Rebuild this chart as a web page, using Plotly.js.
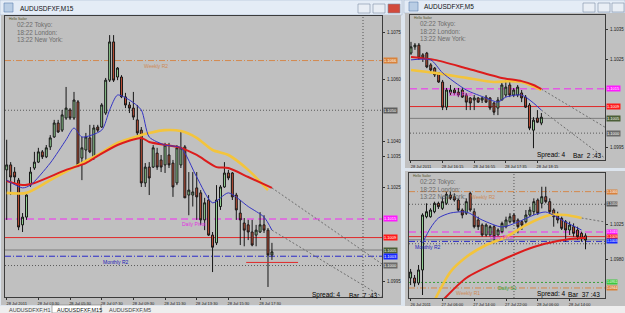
<!DOCTYPE html>
<html><head><meta charset="utf-8">
<script src="https://cdn.plot.ly/plotly-3.0.1.min.js"></script>
<style>html,body{margin:0;padding:0;background:#dde5ee;}#chart{width:625px;height:313px;}</style>
</head><body><div id="chart"></div>
<script>
const W = 625, H = 313;
const FONT = 'Liberation Sans, Arial, sans-serif';

// ===== M15 (main) data =====
const m15Labels = ['28 Jul 2011','28 Jul 03:30','28 Jul 05:30','28 Jul 07:30','28 Jul 09:30','28 Jul 11:30','28 Jul 13:30','28 Jul 15:30','28 Jul 17:30'];
const m15Open = [1.10308,1.10324,1.10301,1.10275,1.10131,1.10156,1.10259,1.10314,1.10333,1.10366,1.10350,
1.10382,1.10414,1.10459,1.10436,1.10475,1.10501,1.10475,1.10527,1.10346,1.10372,
1.10411,1.10350,1.10446,1.10446,1.10491,1.10597,1.10720,1.10607,1.10607,1.10543,
1.10517,1.10507,1.10469,1.10436,1.10266,1.10317,1.10317,1.10362,1.10340,1.10324,
1.10356,1.10330,1.10266,1.10324,1.10382,1.10227,1.10227,1.10250,1.10234,1.10147,
1.10211,1.10098,1.10073,1.10190,1.10253,1.10298,1.10298,1.10227,1.10169,1.10137,
1.10131,1.10108,1.10098,1.10108,1.10131,1.10114,1.10034];
const m15High = [1.10405,1.10333,1.10317,1.10282,1.10169,1.10234,1.10317,1.10366,1.10379,1.10372,1.10388,
1.10420,1.10469,1.10469,1.10501,1.10575,1.10507,1.10559,1.10533,1.10414,1.10427,
1.10453,1.10453,1.10453,1.10523,1.10604,1.10742,1.10742,1.10639,1.10613,1.10556,
1.10527,1.10559,1.10517,1.10446,1.10330,1.10333,1.10388,1.10379,1.10356,1.10395,
1.10395,1.10340,1.10388,1.10436,1.10388,1.10301,1.10301,1.10301,1.10243,1.10218,
1.10227,1.10108,1.10259,1.10259,1.10333,1.10308,1.10301,1.10234,1.10211,1.10153,
1.10147,1.10147,1.10131,1.10172,1.10162,1.10121,1.10073];
const m15Low = [1.10147,1.10227,1.10266,1.10114,1.10108,1.10147,1.10253,1.10308,1.10330,1.10343,1.10346,
1.10372,1.10411,1.10427,1.10430,1.10469,1.10469,1.10469,1.10317,1.10275,1.10340,
1.10362,1.10340,1.10430,1.10443,1.10485,1.10591,1.10591,1.10597,1.10539,1.10507,
1.10491,1.10469,1.10420,1.10253,1.10253,1.10227,1.10314,1.10308,1.10301,1.10298,
1.10314,1.10221,1.10259,1.10314,1.10218,1.10162,1.10190,1.10147,1.10131,1.10114,
1.10095,1.09979,1.10066,1.10179,1.10250,1.10275,1.10211,1.10147,1.10066,1.10062,
1.10082,1.10062,1.10062,1.10105,1.10105,1.09931,1.10018];
const m15Close = [1.10324,1.10285,1.10285,1.10124,1.10156,1.10227,1.10301,1.10333,1.10366,1.10350,1.10379,
1.10411,1.10459,1.10430,1.10485,1.10507,1.10475,1.10533,1.10324,1.10379,1.10414,
1.10366,1.10443,1.10436,1.10517,1.10597,1.10720,1.10597,1.10636,1.10543,1.10517,
1.10507,1.10478,1.10427,1.10266,1.10317,1.10282,1.10379,1.10317,1.10317,1.10388,
1.10324,1.10253,1.10379,1.10379,1.10218,1.10243,1.10237,1.10221,1.10147,1.10202,
1.10098,1.10059,1.10211,1.10253,1.10298,1.10282,1.10221,1.10179,1.10147,1.10114,
1.10108,1.10066,1.10114,1.10131,1.10114,1.10034,1.10044];
const m15RedBar = [0,4,7,15,20,23,28,34,36,44,48,53,56,61,67];
const m15RedVal = [1.10272,1.10259,1.10266,1.10308,1.10330,1.10353,1.10388,1.10411,1.10398,1.10379,1.10356,1.10317,1.10314,1.10285,1.10250];
const m15YelBar = [0,5,11,19,23,28,34,36,40,44,48,52,56,61,66];
const m15YelVal = [1.10234,1.10234,1.10275,1.10330,1.10356,1.10395,1.10420,1.10427,1.10436,1.10433,1.10411,1.10372,1.10356,1.10308,1.10243];
const m15BluBar = [0,4,6,11,15,17,19,24,26,28,31,34,36,40,44,48,52,56,61,65,67];
const m15BluVal = [1.10275,1.10250,1.10259,1.10330,1.10405,1.10443,1.10414,1.10436,1.10501,1.10549,1.10533,1.10501,1.10414,1.10388,1.10379,1.10285,1.10202,1.10234,1.10190,1.10156,1.10114];
const m15ProjBar = [[67,94.8],[67,94.8]];
const m15ProjVal = [[1.10250,1.10005],[1.10114,1.09900]];
const m15Spread = 'Spread: 4', m15BarTime = 'Bar  7 :43';

// ===== M5 (top right) data =====
const m5Labels = ['28 Jul 2011','28 Jul 16:15','28 Jul 16:55','28 Jul 17:35','28 Jul 18:15'];
const m5Open = [1.10271,1.10292,1.10298,1.10265,1.10271,1.10231,1.10220,1.10204,1.10173,1.10088,1.10136,1.10146,1.10139,1.10146,1.10129,1.10119,1.10112,1.10119,1.10112,1.10122,1.10119,1.10102,1.10085,1.10112,1.10129,1.10163,1.10129,1.10129,1.10136,1.10122,1.10095,1.10010,1.10051,1.10034];
const m5High = [1.10309,1.10305,1.10305,1.10271,1.10275,1.10237,1.10224,1.10207,1.10180,1.10153,1.10163,1.10153,1.10153,1.10153,1.10136,1.10122,1.10129,1.10122,1.10122,1.10129,1.10122,1.10105,1.10122,1.10170,1.10180,1.10180,1.10153,1.10163,1.10146,1.10129,1.10102,1.10054,1.10078,1.10068];
const m5Low = [1.10265,1.10282,1.10248,1.10241,1.10220,1.10207,1.10190,1.10170,1.10078,1.10078,1.10129,1.10129,1.10122,1.10119,1.10078,1.10078,1.10078,1.10102,1.10102,1.10102,1.10078,1.10061,1.10061,1.10112,1.10122,1.10122,1.10122,1.10122,1.10105,1.10085,1.10010,1.09949,1.10034,1.10027];
const m5Close = [1.10292,1.10298,1.10254,1.10254,1.10224,1.10214,1.10197,1.10173,1.10088,1.10146,1.10146,1.10136,1.10129,1.10122,1.10105,1.10102,1.10119,1.10105,1.10119,1.10105,1.10085,1.10071,1.10112,1.10163,1.10156,1.10129,1.10146,1.10156,1.10119,1.10088,1.10017,1.10044,1.10037,1.10054];
const m5RedBar = [0,6,14,23,28,31,33];
const m5RedVal = [1.10258,1.10248,1.10220,1.10187,1.10176,1.10163,1.10149];
const m5YelBar = [0,6,14,21,25,28,33];
const m5YelVal = [1.10214,1.10204,1.10187,1.10173,1.10176,1.10173,1.10146];
const m5BluBar = [0,5,8,14,19,22,24,28,31,33];
const m5BluVal = [1.10248,1.10248,1.10204,1.10146,1.10119,1.10105,1.10122,1.10129,1.10102,1.10078];
const m5ProjBar = [[33,49.1],[33,49.1]];
const m5ProjVal = [[1.10149,1.10020],[1.10078,1.09915]];
const m5BarTime = 'Bar  2 :43';

// ===== H1 (bottom right) data =====
const h1Labels = ['26 Jul 2011','27 Jul 06:00','27 Jul 14:00','27 Jul 22:00','28 Jul 06:00','28 Jul 14:00'];
const h1Open = [1.09566,1.09566,1.09503,1.09668,1.10342,1.10342,1.10406,1.10512,1.10448,1.10512,
1.10617,1.10596,1.10554,1.10427,1.10386,1.10638,1.10406,1.10301,1.10237,1.10111,
1.10111,1.10216,1.10111,1.10153,1.10216,1.10279,1.10364,1.10301,1.10279,1.10279,
1.10364,1.10406,1.10554,1.10512,1.10596,1.10533,1.10427,1.10364,1.10322,1.10279,
1.10174,1.10216,1.10174,1.10132,1.10100];
const h1High = [1.09681,1.09604,1.09731,1.10386,1.10512,1.10450,1.10533,1.10533,1.10596,1.10659,
1.10659,1.10638,1.10575,1.10448,1.10575,1.10659,1.10448,1.10343,1.10258,1.10258,
1.10237,1.10237,1.10195,1.10280,1.10343,1.10386,1.10386,1.10322,1.10301,1.10427,
1.10469,1.10575,1.10575,1.10722,1.10722,1.10575,1.10448,1.10406,1.10343,1.10301,
1.10280,1.10258,1.10216,1.10153,1.10132];
const h1Low = [1.09477,1.09456,1.09477,1.09351,1.10322,1.10330,1.10386,1.10440,1.10427,1.10490,
1.10554,1.10533,1.10406,1.10322,1.10364,1.10406,1.10195,1.10174,1.10090,1.10090,
1.10090,1.10005,1.10090,1.10132,1.10195,1.10258,1.10258,1.10132,1.10174,1.10258,
1.10342,1.10364,1.10364,1.10448,1.10512,1.10364,1.10216,1.10258,1.10174,1.10026,
1.10111,1.10090,1.10047,1.10026,1.09930];
const h1Close = [1.09642,1.09503,1.09668,1.10364,1.10406,1.10427,1.10512,1.10469,1.10533,1.10626,
1.10575,1.10554,1.10427,1.10364,1.10533,1.10427,1.10216,1.10216,1.10111,1.10237,
1.10216,1.10089,1.10174,1.10258,1.10301,1.10342,1.10279,1.10216,1.10237,1.10364,
1.10427,1.10533,1.10386,1.10596,1.10533,1.10406,1.10342,1.10301,1.10195,1.10174,
1.10237,1.10132,1.10089,1.10068,1.10047];
const h1RedBar = [8,14,23,31,37,43,44];
const h1RedVal = [1.09280,1.09566,1.09794,1.09959,1.10035,1.10073,1.10073];
const h1YelBar = [6,10,14,19,24,29,35,39,43];
const h1YelVal = [1.09280,1.09642,1.09832,1.09984,1.10085,1.10237,1.10364,1.10364,1.10326];
const h1BluBar = [3,5,7,10,14,18,23,27,31,34,39,43];
const h1BluVal = [1.10009,1.10199,1.10326,1.10389,1.10402,1.10301,1.10212,1.10275,1.10364,1.10402,1.10275,1.10174];
const h1ProjBar = [[43,49]];
const h1ProjVal = [[1.10326,1.10275]];
const h1BarTime = 'Bar  37 :43';

// ===== levels =====
const pivotNames  = ['Weekly R2','Daily Pivot','Monthly R2','Daily S1','Weekly R1'];
const pivotValues = [1.1066, 1.1015, 1.1003, 1.0951, 1.0944];
const roundLevels = [1.1050, 1.1000];
const redLevel = 1.1009;
const bidPrice = 1.1005;
const clockLines = ['02:22 Tokyo:','18:22 London:','13:22 New York:'];

// ===== styles =====
const pivotStyle = {
  'Weekly R2':  {color:'#d4884c', dash:'6px,2px,1px,2px', width:1, text:'#cf8a55'},
  'Daily Pivot':{color:'#e25be2', dash:'7px,4px', width:1.5, text:'#e030e0'},
  'Monthly R2': {color:'#2828c8', dash:'6px,2px,1px,2px', width:1, text:'#2020b8'},
  'Daily S1':   {color:'#3aa03a', dash:'2px,2px', width:1, text:'#40a040'},
  'Weekly R1':  {color:'#d4884c', dash:'6px,2px,1px,2px', width:1, text:'#cf8a55'}
};
const px = x => x / W, py = y => 1 - y / H;

const shapes = [], annotations = [];
function rect(x0,y0,x1,y1,fill,lc,lw){shapes.push({type:'rect',xref:'paper',yref:'paper',x0:px(x0),x1:px(x1),y0:py(y1),y1:py(y0),fillcolor:fill,line:{color:lc||fill,width:lw||0},layer:'below'});}
function txt(s,x,y,size,color,extra){annotations.push(Object.assign({text:s,xref:'paper',yref:'paper',x:px(x),y:py(y),xanchor:'left',yanchor:'middle',showarrow:false,font:{family:FONT,size:size,color:color}},extra||{}));}

// window chrome
rect(0,0,402,15,'#e4ecf6','#9fb3c9',0.5);
rect(404,0,625,13,'#e4ecf6','#9fb3c9',0.5);
rect(1,15,401,305,'#c0c0c0');
rect(405,13,625,168,'#c0c0c0');
rect(405,171,625,306,'#c0c0c0');
rect(0,306,625,313,'#eeeeee');
rect(52,305,101,313,'#ffffff','#7a7a7a',0.6);
rect(4,3,13,12,'#b9cde4','#5a7fae',0.6);
rect(409,2,418,11,'#b9cde4','#5a7fae',0.6);
[[358,370,'#e9eef5'],[373,385,'#e9eef5'],[388,400,'#d24a3c']].forEach(b=>rect(b[0],4,b[1],13,b[2],'#7d8ea5',0.6));
[[583,595,'#e9eef5'],[598,610,'#e9eef5'],[612,624,'#e9eef5']].forEach(b=>rect(b[0],3,b[1],12,b[2],'#7d8ea5',0.6));
txt('AUDUSDFXF,M15',18,8,6.5,'#111');
txt('AUDUSDFXF,M5',422,7,6.5,'#111');
txt('AUDUSDFXF,H1',7,310,5.5,'#444');
txt('AUDUSDFXF,M15',55,310,5.5,'#111');
txt('AUDUSDFXF,M5',107,310,5.5,'#444');

// panels: axis ids and pixel geometry
const panels = [
  {x:'x', y:'y', left:5, right:382, top:16, bottom:297, boxX:383, boxFont:4, clockX:15, clockY:25, helloY:18.6, spreadX:310, barX:347, spreadY:295, barTime:m15BarTime},
  {x:'x2', y:'y2', left:410, right:605, top:15, bottom:160, boxX:606, boxFont:4, clockX:418, clockY:24, helloY:17.6, spreadX:535, barX:571, spreadY:155, barTime:m5BarTime},
  {x:'x3', y:'y3', left:409, right:605, top:173, bottom:298, boxX:606, boxFont:3.4, clockX:418, clockY:182, helloY:175.6, spreadX:535, barX:566, spreadY:294, barTime:h1BarTime}
];
panels.forEach(p=>{
  txt('Hello Sailor',p.left+2,p.helloY,3.5,'#55552a');
  clockLines.forEach((c,i)=>txt(c,p.clockX,p.clockY+i*7.3,6.3,'#6c6c6c'));
  txt(m15Spread,p.spreadX,p.spreadY,6.5,'#000');
  txt(p.barTime,p.barX,p.spreadY,6.5,'#000');
});

function hline(p,price,color,width,dash){shapes.push({type:'line',xref:p.x+' domain',yref:p.y,x0:0,x1:1,y0:price,y1:price,line:{color:color,width:width,dash:dash},layer:'below'});}
function box(p,price,bg){annotations.push({text:price.toFixed(4),xref:'paper',yref:p.y,x:px(p.boxX),y:price,xanchor:'left',yanchor:'middle',showarrow:false,bgcolor:bg,borderpad:0,font:{family:FONT,size:p.boxFont,color:'#ffffff'}});}
function plabel(p,name,bar){const st=pivotStyle[name];annotations.push({text:name,xref:p.x,yref:p.y,x:bar,y:pivotValues[pivotNames.indexOf(name)],xanchor:'left',yanchor:'top',yshift:-0.5,showarrow:false,font:{family:FONT,size:5,color:st.text}});}

function levels(p, names){
  names.forEach(n=>{const st=pivotStyle[n];hline(p,pivotValues[pivotNames.indexOf(n)],st.color,st.width,st.dash);});
  hline(p,roundLevels[0],'#5a5a5a',1,'1px,2px');
  hline(p,roundLevels[1],'#5a5a5a',1,'1px,2px');
  hline(p,redLevel,'#e02828',1,'solid');
  hline(p,bidPrice,'#7c7c7c',1,'solid');
}
// main
levels(panels[0],['Weekly R2','Daily Pivot','Monthly R2']);
plabel(panels[0],'Weekly R2',34.2); plabel(panels[0],'Daily Pivot',43.8); plabel(panels[0],'Monthly R2',23.8);
shapes.push({type:'line',xref:'x',yref:'paper',x0:90,x1:90,y0:py(297),y1:py(16),line:{color:'#555',width:1,dash:'1px,2px'},layer:'below'});
shapes.push({type:'line',xref:'x',yref:'y',x0:60.5,x1:73.6,y0:1.1001,y1:1.1001,line:{color:'#e02828',width:1}});
box(panels[0],pivotValues[0],'#d9823b'); box(panels[0],roundLevels[0],'#5e5e5e');
box(panels[0],pivotValues[1],'#ff1aff'); box(panels[0],redLevel,'#ff1a1a');
box(panels[0],bidPrice,'#4b5e37'); box(panels[0],pivotValues[2],'#1428ff'); box(panels[0],roundLevels[1],'#6a6a6a');
// M5
hline(panels[1],pivotValues[1],pivotStyle['Daily Pivot'].color,1.5,'7px,4px');
hline(panels[1],redLevel,'#e02828',1,'solid');
hline(panels[1],bidPrice,'#7c7c7c',1,'solid');
hline(panels[1],roundLevels[1],'#5a5a5a',1,'1px,2px');
plabel(panels[1],'Daily Pivot',9.2);
box(panels[1],pivotValues[1],'#ff1aff'); box(panels[1],redLevel,'#ff1a1a'); box(panels[1],bidPrice,'#4b5e37'); box(panels[1],roundLevels[1],'#6a6a6a');
// H1
levels(panels[2],['Weekly R2','Daily Pivot','Monthly R2','Daily S1','Weekly R1']);
shapes.push({type:'line',xref:'x3',yref:'paper',x0:26,x1:26,y0:py(298),y1:py(173),line:{color:'#555',width:1,dash:'1px,2px'},layer:'below'});
plabel(panels[2],'Weekly R2',14.6); plabel(panels[2],'Daily Pivot',19.4); plabel(panels[2],'Monthly R2',0.7); plabel(panels[2],'Daily S1',21.4); plabel(panels[2],'Weekly R1',10.9);
box(panels[2],pivotValues[0],'#d9823b'); box(panels[2],roundLevels[0],'#5e5e5e'); box(panels[2],pivotValues[1],'#ff1aff'); box(panels[2],redLevel,'#ff1a1a'); box(panels[2],pivotValues[2],'#1428ff'); box(panels[2],pivotValues[3],'#3cc83c'); box(panels[2],pivotValues[4],'#d9823b');

// traces
const idx = n => Array.from({length:n},(_, i)=>i);
function candles(p,o,h,l,c){return {type:'candlestick',x:idx(o.length),open:o,high:h,low:l,close:c,xaxis:p.x,yaxis:p.y,whiskerwidth:0,
  increasing:{line:{color:'#161616',width:1},fillcolor:'#98d898'},decreasing:{line:{color:'#161616',width:1},fillcolor:'#c65238'},hoverinfo:'skip'};}
function ma(p,xs,ys,color,width,dash){return {type:'scatter',mode:'lines',x:xs,y:ys,xaxis:p.x,yaxis:p.y,line:{color:color,width:width,dash:dash||'solid',shape:'spline',smoothing:0.7},hoverinfo:'skip'};}
const traces = [];
function panelTraces(p,o,h,l,c,yb,yv,rb,rv,bb,bv,projB,projV){
  projB.forEach((b,i)=>traces.push(ma(p,b,projV[i],'#6e6e6e',1,'2px,2px')));
  traces.push(ma(p,yb,yv,'#f3c43c',2.6));
  traces.push(ma(p,rb,rv,'#dc1c1c',2));
  traces.push(candles(p,o,h,l,c));
  traces.push(ma(p,bb,bv,'#3434c4',1));
}
panelTraces(panels[0],m15Open,m15High,m15Low,m15Close,m15YelBar,m15YelVal,m15RedBar,m15RedVal,m15BluBar,m15BluVal,m15ProjBar,m15ProjVal);
panelTraces(panels[1],m5Open,m5High,m5Low,m5Close,m5YelBar,m5YelVal,m5RedBar,m5RedVal,m5BluBar,m5BluVal,m5ProjBar,m5ProjVal);
panelTraces(panels[2],h1Open,h1High,h1Low,h1Close,h1YelBar,h1YelVal,h1RedBar,h1RedVal,h1BluBar,h1BluVal,h1ProjBar,h1ProjVal);

function xax(p,range,labels,step,anchor){return {domain:[px(p.left),px(p.right)],range:range,anchor:anchor,tickvals:labels.map((_,i)=>i*step),ticktext:labels,
  ticks:'outside',ticklen:2,tickcolor:'#333',tickfont:{family:FONT,size:4,color:'#222'},ticklabelshift:10,ticklabelstandoff:0,
  showgrid:false,zeroline:false,showline:true,mirror:true,linecolor:'#3c3c3c',linewidth:1,rangeslider:{visible:false},fixedrange:true};}
function yax(p,range,ticks,anchor){return {domain:[py(p.bottom),py(p.top)],range:range,anchor:anchor,side:'right',tickvals:ticks,tickformat:'.4f',
  ticks:'outside',ticklen:2,tickcolor:'#333',tickfont:{family:FONT,size:4.5,color:'#222'},ticklabelstandoff:1,
  showgrid:false,zeroline:false,showline:true,mirror:true,linecolor:'#3c3c3c',linewidth:1,fixedrange:true};}

const layout = {
  width:W,height:H,margin:{l:0,r:0,t:0,b:0},paper_bgcolor:'#dde5ee',plot_bgcolor:'rgba(0,0,0,0)',showlegend:false,
  font:{family:FONT,size:5,color:'#222'},
  xaxis: xax(panels[0],[-0.43,94.8],m15Labels,8,'y'),
  yaxis: yax(panels[0],[1.098987,1.108035],[1.1075,1.1060,1.1040,1.1035,1.1025,1.0995],'x'),
  xaxis2: xax(panels[1],[-0.25,49.1],m5Labels,8,'y2'),
  yaxis2: yax(panels[1],[1.09909,1.10400],[1.1035,1.1025,1.0995],'x2'),
  xaxis3: xax(panels[2],[-0.4,48.9],h1Labels,8,'y3'),
  yaxis3: yax(panels[2],[1.09313,1.10896],[1.1025,1.0980],'x3'),
  shapes:shapes, annotations:annotations
};
Plotly.newPlot('chart',traces,layout,{staticPlot:true,displayModeBar:false});
</script></body></html>
